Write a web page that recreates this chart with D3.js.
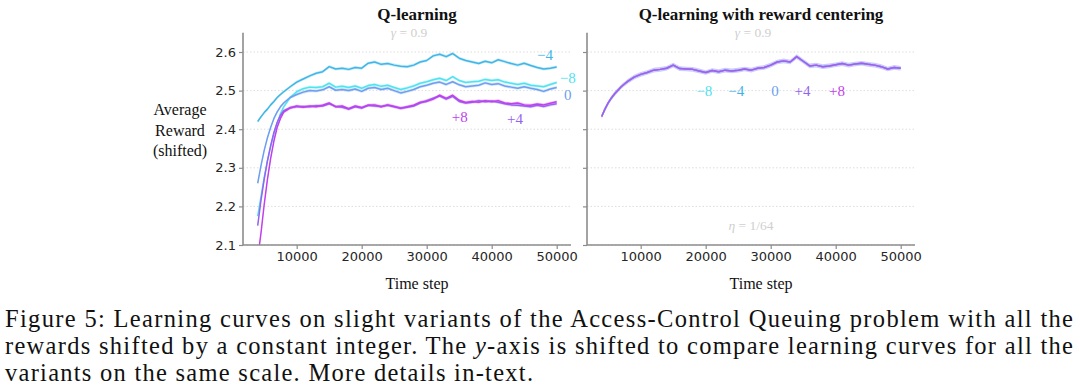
<!DOCTYPE html>
<html>
<head>
<meta charset="utf-8">
<script src="https://cdn.jsdelivr.net/npm/d3@7"></script>
<style>
  body { margin: 0; background: #fff; }
  svg { display: block; }
</style>
</head>
<body>
<svg id="chart" width="1080" height="389"></svg>
<script>
// time steps at which the curves were sampled
const steps = [4000, 4500, 5000, 5500, 6000, 6500, 7000, 7500, 8000, 9000, 10000,
  11000, 12000, 13000, 14000, 15000, 16000, 17000, 18000, 19000, 20000,
  21000, 22000, 23000, 24000, 25000, 26000, 27000, 28000, 29000, 30000,
  31000, 32000, 33000, 34000, 35000, 36000, 37000, 38000, 39000, 40000,
  41000, 42000, 43000, 44000, 45000, 46000, 47000, 48000, 49000, 50000];

// Q-learning, reward shifted by -4
const shiftMinus4 = [2.420, 2.432, 2.443, 2.452, 2.463, 2.472, 2.482, 2.490, 2.497, 2.510, 2.522,
  2.530, 2.538, 2.545, 2.549, 2.562, 2.556, 2.558, 2.555, 2.560, 2.558,
  2.571, 2.574, 2.568, 2.570, 2.566, 2.563, 2.562, 2.566, 2.574, 2.578,
  2.590, 2.594, 2.588, 2.596, 2.584, 2.578, 2.574, 2.570, 2.576, 2.572,
  2.580, 2.575, 2.570, 2.566, 2.571, 2.565, 2.560, 2.556, 2.558, 2.561];

// shifted by -8
const shiftMinus8 = [2.175, 2.225, 2.275, 2.318, 2.355, 2.388, 2.415, 2.440, 2.458, 2.482, 2.497,
  2.505, 2.509, 2.508, 2.510, 2.519, 2.509, 2.511, 2.508, 2.512, 2.506,
  2.513, 2.516, 2.511, 2.514, 2.508, 2.503, 2.507, 2.512, 2.519, 2.523,
  2.528, 2.532, 2.526, 2.536, 2.526, 2.521, 2.523, 2.524, 2.529, 2.526,
  2.528, 2.522, 2.519, 2.516, 2.519, 2.514, 2.512, 2.510, 2.516, 2.521];

// no shift
const shiftZero = [2.260, 2.305, 2.345, 2.378, 2.405, 2.428, 2.445, 2.458, 2.468, 2.482, 2.490,
  2.496, 2.500, 2.499, 2.502, 2.510, 2.501, 2.503, 2.500, 2.504, 2.498,
  2.506, 2.508, 2.503, 2.506, 2.500, 2.494, 2.498, 2.503, 2.510, 2.514,
  2.519, 2.522, 2.516, 2.523, 2.515, 2.510, 2.512, 2.514, 2.520, 2.516,
  2.518, 2.512, 2.509, 2.506, 2.510, 2.506, 2.503, 2.498, 2.504, 2.508];

// shifted by +4
const shiftPlus4 = [2.150, 2.215, 2.270, 2.318, 2.358, 2.392, 2.418, 2.436, 2.448, 2.456, 2.458,
  2.459, 2.458, 2.461, 2.460, 2.466, 2.459, 2.457, 2.452, 2.458, 2.455,
  2.462, 2.460, 2.459, 2.462, 2.458, 2.455, 2.457, 2.460, 2.468, 2.474,
  2.480, 2.486, 2.478, 2.485, 2.472, 2.468, 2.470, 2.474, 2.471, 2.473,
  2.470, 2.466, 2.463, 2.462, 2.460, 2.458, 2.462, 2.459, 2.463, 2.466];

// shifted by +8
const shiftPlus8 = [2.065, 2.130, 2.205, 2.270, 2.325, 2.370, 2.405, 2.428, 2.444, 2.455, 2.460,
  2.457, 2.460, 2.458, 2.462, 2.468, 2.458, 2.460, 2.453, 2.460, 2.456,
  2.462, 2.463, 2.458, 2.463, 2.459, 2.454, 2.458, 2.462, 2.470, 2.472,
  2.478, 2.488, 2.480, 2.488, 2.475, 2.469, 2.472, 2.470, 2.474, 2.471,
  2.474, 2.468, 2.466, 2.468, 2.463, 2.462, 2.465, 2.463, 2.467, 2.471];

// with reward centering all five variants coincide
const centered = [2.433, 2.452, 2.468, 2.481, 2.492, 2.501, 2.510, 2.517, 2.524, 2.535, 2.542,
  2.547, 2.553, 2.555, 2.558, 2.566, 2.557, 2.556, 2.555, 2.551, 2.547,
  2.552, 2.549, 2.553, 2.551, 2.553, 2.556, 2.553, 2.558, 2.560, 2.566,
  2.574, 2.577, 2.574, 2.588, 2.576, 2.564, 2.566, 2.562, 2.564, 2.567,
  2.570, 2.566, 2.569, 2.571, 2.568, 2.566, 2.562, 2.556, 2.560, 2.558];

const shiftNames = ["\u22124", "\u22128", "0", "+4", "+8"];
const yTicks = [2.1, 2.2, 2.3, 2.4, 2.5, 2.6];
const xTicks = [10000, 20000, 30000, 40000, 50000];

// label anchors in data units (time step, reward), same order as shiftNames
const leftLabelAt = [[48200, 2.592], [51700, 2.533], [51700, 2.490], [43600, 2.426], [35100, 2.431]];
const rightLabelAt = [[24700, 2.5], [19800, 2.5], [30650, 2.5], [34900, 2.5], [40200, 2.5]];

const colors = ["#3fb6e6", "#4fe2ef", "#6c9ff0", "#9563ef", "#c13fee"];
const bandHalf = 0.004;

const svg = d3.select("#chart");

const y = d3.scaleLinear().domain([2.1, 2.65]).range([245, 32.7]);

const panels = [
  { left: 243, right: 571, title: "Q-learning", series: [shiftMinus4, shiftMinus8, shiftZero, shiftPlus4, shiftPlus8], labels: leftLabelAt, yLabels: true },
  { left: 587, right: 915, title: "Q-learning with reward centering", series: [centered, centered, centered, centered, centered], labels: rightLabelAt, yLabels: false }
];

panels.forEach((p, pi) => {
  const x = d3.scaleLinear().domain([1740, 52200]).range([p.left, p.right]);
  const g = svg.append("g");
  const mid = (p.left + p.right) / 2 + 10;

  // dotted grid
  g.append("g")
    .selectAll("line")
    .data(yTicks)
    .join("line")
    .attr("x1", p.left)
    .attr("x2", p.right)
    .attr("y1", (d) => y(d))
    .attr("y2", (d) => y(d))
    .attr("stroke", "#d4d4d4")
    .attr("stroke-width", 0.8)
    .attr("stroke-dasharray", "1.5,2");

  // parameter notes
  const gamma = g.append("text")
    .attr("x", mid - 8)
    .attr("y", 37)
    .attr("text-anchor", "middle")
    .attr("font-family", "Liberation Serif")
    .attr("font-size", 13.5)
    .attr("fill", "#cfcfcf");
  gamma.append("tspan").attr("font-style", "italic").text("\u03b3");
  gamma.append("tspan").text(" = 0.9");

  if (pi === 1) {
    const eta = g.append("text")
      .attr("x", mid - 10)
      .attr("y", 230)
      .attr("text-anchor", "middle")
      .attr("font-family", "Liberation Serif")
      .attr("font-size", 13.5)
      .attr("fill", "#cfcfcf");
    eta.append("tspan").attr("font-style", "italic").text("\u03b7");
    eta.append("tspan").text(" = 1/64");
  }

  // curves, clipped to the axes box
  const clipId = "clip" + pi;
  svg.append("clipPath").attr("id", clipId)
    .append("rect")
    .attr("x", p.left)
    .attr("y", y(2.65))
    .attr("width", p.right - p.left)
    .attr("height", y(2.1) - y(2.65));

  const plot = g.append("g").attr("clip-path", `url(#${clipId})`);

  const half = pi === 1 ? 0.006 : bandHalf;
  const area = d3.area()
    .x((d, i) => x(steps[i]))
    .y0((d) => y(d - half))
    .y1((d) => y(d + half));
  const line = d3.line()
    .x((d, i) => x(steps[i]))
    .y((d) => y(d));

  if (pi === 0) {
    p.series.forEach((s, si) => {
      plot.append("path")
        .attr("d", area(s))
        .attr("fill", colors[si])
        .attr("opacity", 0.28);
    });
    p.series.forEach((s, si) => {
      plot.append("path")
        .attr("d", line(s))
        .attr("fill", "none")
        .attr("stroke", colors[si])
        .attr("stroke-width", 1.5)
        .attr("stroke-linejoin", "round");
    });
  } else {
    plot.append("path")
      .attr("d", area(p.series[0]))
      .attr("fill", "#8f8cf2")
      .attr("opacity", 0.45);
    p.series.forEach((s, si) => {
      plot.append("path")
        .attr("d", line(s))
        .attr("fill", "none")
        .attr("stroke", colors[si])
        .attr("stroke-width", 1.5)
        .attr("opacity", si < 3 ? 0.5 : 0.6)
        .attr("stroke-linejoin", "round");
    });
  }

  // series labels
  g.append("g")
    .selectAll("text")
    .data(p.labels)
    .join("text")
    .attr("x", (d) => x(d[0]))
    .attr("y", (d) => y(d[1]))
    .attr("dy", "0.35em")
    .attr("text-anchor", "middle")
    .attr("font-family", "Liberation Serif")
    .attr("font-size", 15)
    .attr("fill", (d, i) => colors[i])
    .text((d, i) => shiftNames[i]);

  // axes
  const yAxis = d3.axisLeft(y)
    .tickValues(yTicks)
    .tickSize(4)
    .tickPadding(3)
    .tickFormat(p.yLabels ? d3.format(".1f") : () => "");
  const ay = g.append("g").attr("transform", `translate(${p.left},0)`).call(yAxis);

  const xAxis = d3.axisBottom(x)
    .tickValues(xTicks)
    .tickSize(4)
    .tickPadding(3)
    .tickFormat(d3.format("d"));
  const ax = g.append("g").attr("transform", `translate(0,${y(2.1)})`).call(xAxis);

  [ax, ay].forEach((a) => {
    a.select(".domain").attr("stroke", "#8c8c8c").attr("stroke-width", 1.6);
    a.selectAll(".tick line").attr("stroke", "#8c8c8c").attr("stroke-width", 1.2);
    a.selectAll(".tick text")
      .attr("font-family", "DejaVu Sans")
      .attr("font-size", 13)
      .attr("fill", "#262626");
  });
  // spines only span the axes box (no outer ticks)
  ax.select(".domain").attr("d", `M${p.left},0H${p.right}`);
  ay.select(".domain").attr("d", `M0,${y(2.65)}V${y(2.1)}`);

  // titles
  g.append("text")
    .attr("x", mid)
    .attr("y", 20)
    .attr("text-anchor", "middle")
    .attr("font-family", "Liberation Serif")
    .attr("font-weight", "bold")
    .attr("font-size", 17)
    .attr("fill", "#111")
    .text(p.title);

  g.append("text")
    .attr("x", mid)
    .attr("y", 289)
    .attr("text-anchor", "middle")
    .attr("font-family", "Liberation Serif")
    .attr("font-size", 16)
    .attr("fill", "#111")
    .text("Time step");
});

// y-axis title
svg.append("g")
  .selectAll("text")
  .data(["Average", "Reward", "(shifted)"])
  .join("text")
  .attr("x", 180)
  .attr("y", (d, i) => 115 + i * 20.5)
  .attr("text-anchor", "middle")
  .attr("font-family", "Liberation Serif")
  .attr("font-size", 16)
  .attr("fill", "#111")
  .text((d) => d);

// figure caption
const caption = svg.append("g")
  .attr("font-family", "Liberation Serif")
  .attr("font-size", 24.5)
  .attr("fill", "#111");

caption.append("text")
  .attr("x", 5).attr("y", 327)
  .attr("textLength", 1068).attr("lengthAdjust", "spacing")
  .text("Figure 5:  Learning curves on slight variants of the Access-Control Queuing problem with all the");

const c2 = caption.append("text")
  .attr("x", 5).attr("y", 354)
  .attr("textLength", 1068).attr("lengthAdjust", "spacing");
c2.append("tspan").text("rewards shifted by a constant integer.  The ");
c2.append("tspan").attr("font-style", "italic").text("y");
c2.append("tspan").text("-axis is shifted to compare learning curves for all the");

caption.append("text")
  .attr("x", 5).attr("y", 381)
  .attr("textLength", 528).attr("lengthAdjust", "spacing")
  .text("variants on the same scale. More details in-text.");
</script>
</body>
</html>
